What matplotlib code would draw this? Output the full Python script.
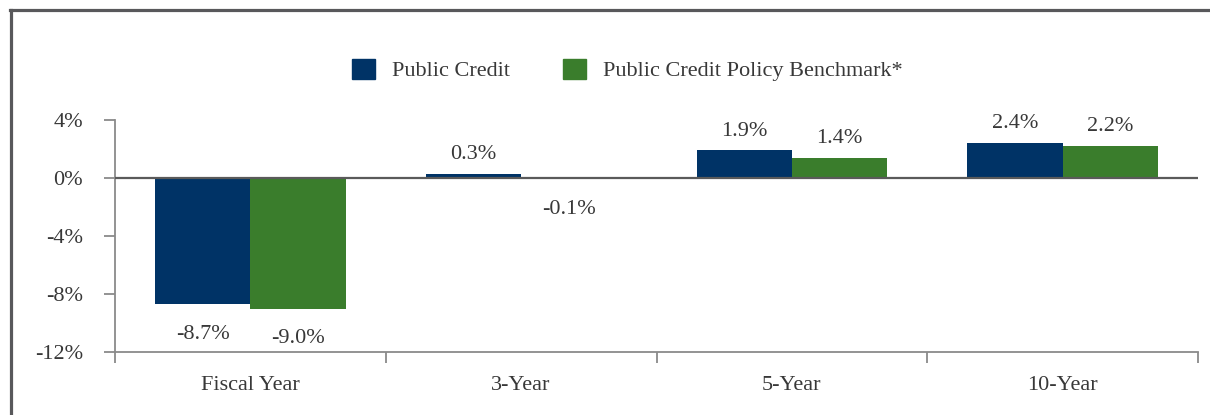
import numpy as np
import matplotlib.pyplot as plt
from matplotlib.lines import Line2D
from matplotlib.patches import Patch

plt.rcParams['font.family'] = ['Liberation Serif', 'DejaVu Serif']

# returns by period
categories = ['Fiscal Year', '3-Year', '5-Year', '10-Year']
public_credit = [-8.7, 0.3, 1.9, 2.4]
benchmark = [-9.0, -0.1, 1.4, 2.2]
series_names = ['Public Credit', 'Public Credit Policy Benchmark*']
y_ticks = [-12, -8, -4, 0, 4]

BLUE = '#003366'
GREEN = '#3a7d2c'
TEXT = '#383838'
AXIS = '#8a8a8a'

W, H = 1210, 415
fig = plt.figure(figsize=(W / 100, H / 100), dpi=100)
ax = fig.add_axes([115 / W, (H - 352) / H, 1083 / W, 232 / H])

x = np.arange(len(categories))
bw = 0.352
bars1 = ax.bar(x - bw / 2, public_credit, bw, color=BLUE, zorder=2)
bars2 = ax.bar(x + bw / 2, benchmark, bw, color=GREEN, zorder=2)

# value labels above positive bars, below negative ones
for bars, vals in ((bars1, public_credit), (bars2, benchmark)):
    for b, v in zip(bars, vals):
        cx = b.get_x() + b.get_width() / 2
        if v >= 0:
            ax.annotate(f'{v:.1f}%', (cx, v), xytext=(0, 7), textcoords='offset points',
                        ha='center', va='bottom', fontsize=16, color=TEXT)
        else:
            ax.annotate(f'{v:.1f}%', (cx, v), xytext=(0, -15), textcoords='offset points',
                        ha='center', va='top', fontsize=16, color=TEXT)

ax.axhline(0, color='#5a5a5a', lw=1.6, zorder=3)

ax.set_xlim(-0.5, len(categories) - 0.5)
ax.set_ylim(-12, 4)
ax.set_yticks(y_ticks)
ax.set_yticklabels([f'{t}%' for t in y_ticks])
ax.set_xticks(x)
ax.set_xticklabels(categories)
ax.set_xticks(np.arange(len(categories) + 1) - 0.5, minor=True)

for s in ('top', 'right'):
    ax.spines[s].set_visible(False)
for s in ('left', 'bottom'):
    ax.spines[s].set_color(AXIS)
    ax.spines[s].set_linewidth(1.3)

ax.tick_params(axis='y', length=8, width=1.3, color=AXIS, labelsize=16,
               labelcolor=TEXT, pad=15)
ax.tick_params(axis='x', which='major', length=0, labelsize=16, labelcolor=TEXT, pad=17)
ax.tick_params(axis='x', which='minor', length=8, width=1.3, color=AXIS)

handles = [Patch(color=BLUE), Patch(color=GREEN)]
fig.legend(handles, series_names, loc='center', bbox_to_anchor=(627 / W, (H - 70) / H),
           ncol=2, frameon=False, fontsize=16, handlelength=1.05, handleheight=1.05,
           handletextpad=0.75, columnspacing=2.4, labelcolor=TEXT)

# outer frame on left and top
fig.add_artist(Line2D([10.5 / W, 10.5 / W], [0, (H - 10.5) / H], color='#58585b', lw=2.3))
fig.add_artist(Line2D([9.5 / W, 1], [(H - 10.5) / H, (H - 10.5) / H], color='#58585b', lw=2.3))

fig.savefig('out.png', dpi=100)
